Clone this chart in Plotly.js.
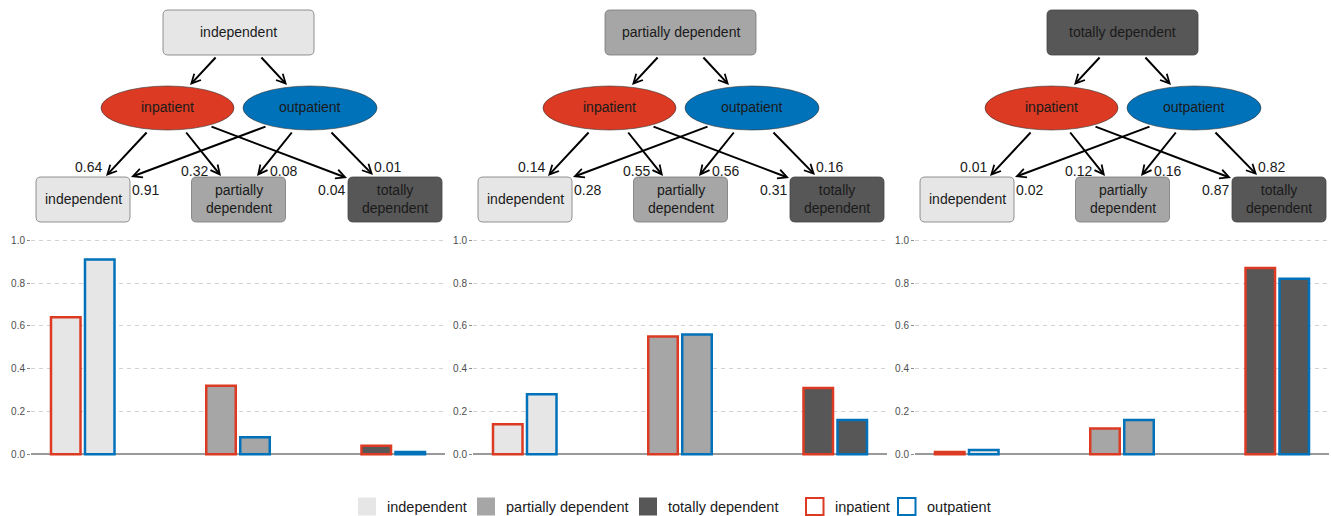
<!DOCTYPE html>
<html><head><meta charset="utf-8">
<script src="https://cdn.plot.ly/plotly-3.0.1.min.js"></script>
<style>html,body{margin:0;padding:0;background:#fff}#chart{width:1331px;height:516px}</style>
</head><body><div id="chart"></div>
<script>
// ---------------- DATA ----------------
const categories = ['independent', 'partially dependent', 'totally dependent'];
const boxLabels = ['independent', 'partially<br>dependent', 'totally<br>dependent'];
const panelStates = ['independent', 'partially dependent', 'totally dependent'];
const groups = ['inpatient', 'outpatient'];
const inpatientFromIndependent = [0.64, 0.32, 0.04];
const outpatientFromIndependent = [0.91, 0.08, 0.01];
const inpatientFromPartial = [0.14, 0.55, 0.31];
const outpatientFromPartial = [0.28, 0.56, 0.16];
const inpatientFromTotal = [0.01, 0.12, 0.87];
const outpatientFromTotal = [0.02, 0.16, 0.82];
const yTicks = [0, 0.2, 0.4, 0.6, 0.8, 1.0];

const inpatientSeries = [inpatientFromIndependent, inpatientFromPartial, inpatientFromTotal];
const outpatientSeries = [outpatientFromIndependent, outpatientFromPartial, outpatientFromTotal];

// ---------------- STYLE / LAYOUT ----------------
const W = 1331, H = 516, DX = 442;
const FONT = 'Liberation Sans, Arial, Helvetica, sans-serif';
const stateFill = ['#e6e6e6', '#a6a6a6', '#575757'];
const groupColor = ['#dc3a23', '#0072b9'];
const textColor = '#1a1a1a';
const X = px => px / W;
const Y = py => 1 - py / H;

// diagram geometry (panel-local pixels)
const topBox = {cx: 238.5, cy: 32.5, w: 151, h: 45};
const ellipses = [{cx: 167.5, cy: 108, rx: 66.5, ry: 22}, {cx: 310, cy: 108, rx: 67, ry: 22}];
const bottomBox = {cx: [83, 238.5, 395], cy: 199.5, w: 94, h: 45};
const topArrows = [[217, 56, 190, 85], [260, 56, 287, 85]];
const groupArrows = [
  [[148, 131, 106, 176], [185, 131, 221, 176], [210, 126, 347, 178]],
  [[267, 126, 131, 177], [293, 131, 257, 176], [330, 131, 373, 175]]
];
const labelPos = [
  [[89, 167], [194, 171], [331, 190]],
  [[145, 190], [283, 171], [387, 167]]
];

function roundRect(cx, cy, w, h, r, fill, line) {
  const x0 = cx - w / 2, x1 = cx + w / 2, y0 = cy - h / 2, y1 = cy + h / 2;
  const p = (x, y) => X(x) + ',' + Y(y);
  const path = 'M' + p(x0 + r, y0) + ' L' + p(x1 - r, y0) + ' Q' + p(x1, y0) + ' ' + p(x1, y0 + r) +
    ' L' + p(x1, y1 - r) + ' Q' + p(x1, y1) + ' ' + p(x1 - r, y1) +
    ' L' + p(x0 + r, y1) + ' Q' + p(x0, y1) + ' ' + p(x0, y1 - r) +
    ' L' + p(x0, y0 + r) + ' Q' + p(x0, y0) + ' ' + p(x0 + r, y0) + ' Z';
  return {type: 'path', xref: 'paper', yref: 'paper', path: path, fillcolor: fill,
          line: {color: line, width: 0.8}, layer: 'above'};
}
function label(x, y, text, size, anchor) {
  return {xref: 'paper', yref: 'paper', x: X(x), y: Y(y), text: text, showarrow: false,
          xanchor: anchor || 'center', yanchor: 'middle',
          font: {family: FONT, size: size || 14, color: textColor}};
}
function arrow(a, off) {
  const [tx, ty, hx, hy] = a;
  return {xref: 'paper', yref: 'paper', x: X(hx + off), y: Y(hy), ax: tx - hx, ay: ty - hy,
          text: '', showarrow: true, arrowhead: 5, arrowsize: 0.9, arrowwidth: 2,
          arrowcolor: '#000', standoff: 0, startstandoff: 0};
}

const traces = [];
const shapes = [];
const annotations = [];
const layout = {
  width: W, height: H, margin: {l: 0, r: 0, t: 0, b: 0},
  paper_bgcolor: '#fff', plot_bgcolor: 'rgba(0,0,0,0)',
  showlegend: false, hovermode: false,
  barmode: 'group', bargap: 0.562, bargroupgap: 0.132,
  font: {family: FONT, color: textColor}
};

for (let p = 0; p < 3; p++) {
  const off = p * DX;
  const xa = p === 0 ? 'x' : 'x' + (p + 1);
  const ya = p === 0 ? 'y' : 'y' + (p + 1);
  const series = [inpatientSeries[p], outpatientSeries[p]];
  series.forEach((vals, g) => {
    traces.push({
      type: 'bar', x: categories, y: vals, name: groups[g], xaxis: xa, yaxis: ya,
      marker: {color: stateFill, line: {color: groupColor[g], width: 2.5}}
    });
  });
  layout['xaxis' + (p === 0 ? '' : p + 1)] = {
    domain: [X(31 + off), X(445 + off)], range: [-1 / 3, 7 / 3], type: 'category',
    showticklabels: false, ticks: '', showgrid: false, zeroline: false, showline: false,
    fixedrange: true, anchor: ya
  };
  layout['yaxis' + (p === 0 ? '' : p + 1)] = {
    domain: [Y(456.4), Y(229.6)], range: [-0.01, 1.05], anchor: xa,
    tickmode: 'array', tickvals: yTicks, tickformat: '.1f',
    ticks: 'outside', ticklen: 3, tickwidth: 1, tickcolor: '#8a8a8a',
    tickfont: {family: FONT, size: 10, color: '#4d4d4d'},
    showgrid: true, gridcolor: '#d2d2d2', gridwidth: 1, griddash: '4px,4px',
    zeroline: true, zerolinecolor: '#9a9a9a', zerolinewidth: 1.6, showline: false,
    fixedrange: true
  };

  // diagram
  topArrows.forEach(a => annotations.push(arrow(a, off)));
  groupArrows.forEach(arr => arr.forEach(a => annotations.push(arrow(a, off))));
  shapes.push(roundRect(topBox.cx + off, topBox.cy, topBox.w, topBox.h, 5, stateFill[p], p === 2 ? '#444' : '#777'));
  annotations.push(label(topBox.cx + off, topBox.cy - 1, panelStates[p], 14));
  ellipses.forEach((e, g) => {
    shapes.push({type: 'circle', xref: 'paper', yref: 'paper',
      x0: X(e.cx - e.rx + off), x1: X(e.cx + e.rx + off), y0: Y(e.cy + e.ry), y1: Y(e.cy - e.ry),
      fillcolor: groupColor[g], line: {color: '#333', width: 0.6}, layer: 'above'});
    annotations.push(label(e.cx + off, e.cy - 1, groups[g], 14));
  });
  bottomBox.cx.forEach((cx, k) => {
    shapes.push(roundRect(cx + off, bottomBox.cy, bottomBox.w, bottomBox.h, 5, stateFill[k], k === 2 ? '#444' : '#777'));
    annotations.push(label(cx + off, bottomBox.cy - 0.5, boxLabels[k], 14));
  });
  series.forEach((vals, g) => {
    vals.forEach((v, k) => {
      const [lx, ly] = labelPos[g][k];
      annotations.push(label(lx + off, ly, v.toFixed(2), 14));
    });
  });
}

// legend
const legFillX = [358, 477, 639];
const legFillTextX = [385, 504, 666];
categories.forEach((c, k) => {
  shapes.push({type: 'rect', xref: 'paper', yref: 'paper', x0: X(legFillX[k]), x1: X(legFillX[k] + 18),
    y0: Y(515.5), y1: Y(497.5), fillcolor: stateFill[k], line: {width: 0}});
  annotations.push(label(legFillTextX[k], 507, c, 14.5, 'left'));
});
const legLineX = [806, 898];
const legLineTextX = [833, 925];
groups.forEach((gname, g) => {
  shapes.push({type: 'rect', xref: 'paper', yref: 'paper', x0: X(legLineX[g]), x1: X(legLineX[g] + 17.5),
    y0: Y(515), y1: Y(498), fillcolor: '#fff', line: {color: groupColor[g], width: 2}});
  annotations.push(label(legLineTextX[g], 507, gname, 14.5, 'left'));
});

layout.shapes = shapes;
layout.annotations = annotations;
Plotly.newPlot('chart', traces, layout, {staticPlot: true, displayModeBar: false});
</script>
</body></html>
